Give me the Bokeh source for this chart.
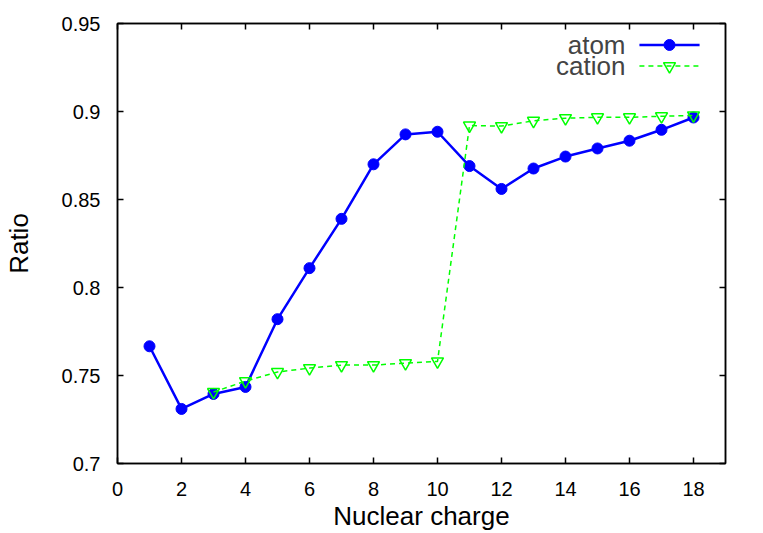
from bokeh.plotting import figure
from bokeh.models import FixedTicker, LinearAxis, CustomJSTickFormatter, Label, Range1d
from bokeh.embed import file_html
from bokeh.resources import INLINE

# Data
z_atom = list(range(1, 19))
ratio_atom = [0.7666, 0.731, 0.7395, 0.7435, 0.782, 0.811, 0.839, 0.870, 0.887,
              0.8885, 0.869, 0.856, 0.8676, 0.8744, 0.879, 0.8834, 0.8896, 0.8966]
z_cation = list(range(3, 19))
ratio_cation = [0.7406, 0.7468, 0.752, 0.7542, 0.7559, 0.7559, 0.757, 0.758,
                0.892, 0.8917, 0.8947, 0.8962, 0.8967, 0.8967, 0.8973, 0.8978]
x_ticks = [0, 2, 4, 6, 8, 10, 12, 14, 16, 18]
y_ticks = [0.7, 0.75, 0.8, 0.85, 0.9, 0.95]
series_names = ["atom", "cation"]

FONT = "Liberation Sans"
BLUE = "#0000ff"
GREEN = "#00ff00"

p = figure(width=763, height=533, output_backend="svg", toolbar_location=None,
           x_range=Range1d(0, 19), y_range=Range1d(0.7, 0.95),
           min_border_left=117, min_border_right=38, min_border_top=23, min_border_bottom=68)
p.grid.visible = False
p.outline_line_color = "black"
p.outline_line_width = 1.5
p.background_fill_color = "white"
p.border_fill_color = "white"

fmt = CustomJSTickFormatter(code="return tick.toFixed(2).replace(/0$/, '');")
blank = CustomJSTickFormatter(code="return '';")

for ax in p.xaxis:
    ax.ticker = FixedTicker(ticks=x_ticks)
for ax in p.yaxis:
    ax.ticker = FixedTicker(ticks=y_ticks)
    ax.formatter = fmt

for ax in list(p.xaxis) + list(p.yaxis):
    ax.major_tick_in = 6
    ax.major_tick_out = 0
    ax.minor_tick_line_color = None
    ax.axis_line_width = 1.5
    ax.major_tick_line_width = 1.5
    ax.major_label_text_font = FONT
    ax.major_label_text_font_size = "20px"
    ax.major_label_text_color = "black"
    ax.axis_label_text_font = FONT
    ax.axis_label_text_font_size = "26px"
    ax.axis_label_text_font_style = "normal"
    ax.axis_label_text_color = "black"

p.xaxis.axis_label = "Nuclear charge"
p.yaxis.axis_label = "Ratio"
p.xaxis.major_label_standoff = 18
p.xaxis.axis_label_standoff = 2
p.yaxis.major_label_standoff = 17
p.yaxis.axis_label_standoff = 25

# mirrored ticks on top and right
for loc, ticks in (("above", x_ticks), ("right", y_ticks)):
    ax = LinearAxis(ticker=FixedTicker(ticks=ticks), formatter=blank,
                    major_tick_in=6, major_tick_out=0, minor_tick_line_color=None,
                    axis_line_width=1.5, major_tick_line_width=1.5, major_label_standoff=0)
    p.add_layout(ax, loc)

# series
p.line(z_atom, ratio_atom, line_color=BLUE, line_width=2.5)
p.scatter(z_atom, ratio_atom, marker="circle", size=11, fill_color=BLUE, line_color=BLUE)
p.line(z_cation, ratio_cation, line_color=GREEN, line_width=1.5, line_dash="5 4")
p.scatter(z_cation, ratio_cation, marker="inverted_triangle", size=12,
          fill_alpha=0.0, line_color=GREEN, line_width=1.5)

# legend (gnuplot-style: label left of sample)
leg_x_text = 15.875
leg_x0, leg_x1, leg_xm = 16.31, 18.19, 17.25
leg_y = [0.9378, 0.9258]
for name, yy in zip(series_names, leg_y):
    p.add_layout(Label(x=leg_x_text, y=yy, text=name, text_align="right",
                       text_baseline="middle", text_font=FONT, text_font_size="26px"))
p.line([leg_x0, leg_x1], [leg_y[0], leg_y[0]], line_color=BLUE, line_width=2.5)
p.scatter([leg_xm], [leg_y[0]], marker="circle", size=11, fill_color=BLUE, line_color=BLUE)
p.line([leg_x0, leg_x1], [leg_y[1], leg_y[1]], line_color=GREEN, line_width=1.5, line_dash="5 4")
p.scatter([leg_xm], [leg_y[1]], marker="inverted_triangle", size=12,
          fill_alpha=0.0, line_color=GREEN, line_width=1.5)

open("out.html", "w").write(file_html(p, INLINE))
